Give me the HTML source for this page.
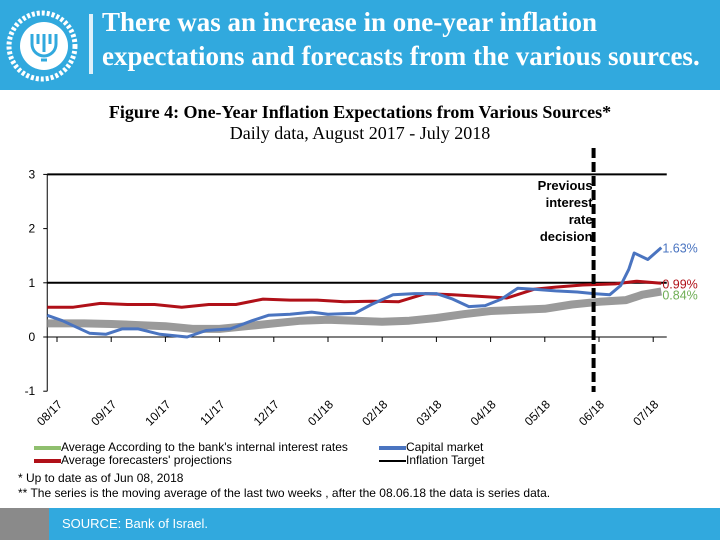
<!DOCTYPE html>
<html><head><meta charset="utf-8"><style>
body{margin:0;width:720px;height:540px;overflow:hidden;background:#fff;font-family:"Liberation Sans",sans-serif;position:relative}
.abs{position:absolute}
</style></head><body>
<div class="abs" style="left:0;top:0;width:720px;height:90px;background:#31a9de"></div>
<svg class="abs" style="left:4px;top:8px" width="76" height="76" viewBox="0 0 76 76">
<circle cx="38" cy="38" r="33" fill="none" stroke="#fff" stroke-width="5" stroke-dasharray="3 2"/>
<circle cx="40" cy="38" r="24" fill="#fff"/>
<path d="M28 26 v10 a12 12 0 0 0 24 0 v-10 M34 26v10 M40 26v18 M46 26v10 M37 52h6" stroke="#31a9de" stroke-width="3" fill="none"/>
</svg>
<div class="abs" style="left:89px;top:14px;width:4px;height:60px;background:#dff1fa"></div>
<div class="abs" style="left:102px;top:5px;color:#fff;font-family:'Liberation Serif',serif;font-weight:bold;font-size:27px;line-height:34px;white-space:nowrap">There was an increase in one-year inflation<br>expectations and forecasts from the various sources.</div>
<div class="abs" style="left:0;width:720px;top:102px;text-align:center;font-family:'Liberation Serif',serif;font-size:18px;line-height:21px;color:#000"><b>Figure 4: One-Year Inflation Expectations from Various Sources*</b><br>Daily data, August 2017 - July 2018</div>
<svg class="abs" style="left:0;top:0" width="720" height="540" id="chart"></svg>
<div class="abs" style="left:34px;top:440px;font-size:12px;line-height:14px;color:#000">
<div class="abs" style="left:0;top:0;white-space:nowrap"><span style="display:inline-block;width:27px;height:4px;background:#8fbf6e;vertical-align:middle"></span>Average According to the bank's internal interest rates</div>
<div class="abs" style="left:0;top:13px;white-space:nowrap"><span style="display:inline-block;width:27px;height:4px;background:#b01018;vertical-align:middle"></span>Average forecasters' projections</div>
<div class="abs" style="left:345px;top:0;white-space:nowrap"><span style="display:inline-block;width:27px;height:4px;background:#4a74c0;vertical-align:middle"></span>Capital market</div>
<div class="abs" style="left:345px;top:13px;white-space:nowrap"><span style="display:inline-block;width:27px;height:2px;background:#000;vertical-align:middle"></span>Inflation Target</div>
</div>
<div class="abs" style="left:18px;top:471px;font-size:12px;line-height:15px;white-space:nowrap">* Up to date as of Jun 08, 2018<br>** The series is the moving average of the last two weeks , after the 08.06.18 the data is series data.</div>
<div class="abs" style="left:0;top:508px;width:49px;height:32px;background:#8a8a8a"></div>
<div class="abs" style="left:49px;top:508px;width:671px;height:32px;background:#31a9de;color:#fff;font-size:13px;line-height:32px;padding-left:13px;box-sizing:border-box">SOURCE: Bank of Israel.</div>
<script>
const months=['08/17','09/17','10/17','11/17','12/17','01/18','02/18','03/18','04/18','05/18','06/18','07/18'];
const yTicks=[-1,0,1,2,3];
const capitalT=[-0.18,0.1,0.6,0.9,1.2,1.5,1.9,2.4,2.75,3.2,3.6,3.9,4.3,4.7,5.0,5.5,5.8,6.2,6.6,7.0,7.3,7.6,7.9,8.2,8.5,8.8,9.2,9.6,9.9,10.2,10.4,10.55,10.65,10.9,11.15];
const capitalV=[0.4,0.3,0.07,0.05,0.15,0.15,0.05,0.0,0.12,0.15,0.3,0.4,0.42,0.46,0.42,0.44,0.6,0.78,0.8,0.8,0.7,0.56,0.58,0.7,0.9,0.88,0.85,0.83,0.8,0.78,0.95,1.25,1.55,1.43,1.65];
const forecastT=[-0.18,0.3,0.8,1.3,1.8,2.3,2.8,3.3,3.8,4.3,4.8,5.3,5.8,6.3,6.8,7.3,7.8,8.3,8.8,9.2,9.7,10.3,10.7,11.15];
const forecastV=[0.55,0.55,0.62,0.6,0.6,0.55,0.6,0.6,0.7,0.68,0.68,0.65,0.66,0.65,0.8,0.78,0.75,0.72,0.88,0.92,0.96,0.98,1.03,0.99];
const bankT=[-0.18,0.5,1.0,1.5,2.0,2.5,3.0,3.5,4.0,4.5,5.0,5.5,6.0,6.5,7.0,7.5,8.0,8.5,9.0,9.5,10.0,10.5,10.8,11.15];
const bankV=[0.25,0.25,0.24,0.22,0.2,0.15,0.15,0.2,0.25,0.3,0.32,0.3,0.28,0.3,0.35,0.42,0.48,0.5,0.52,0.6,0.65,0.68,0.78,0.84];
const decisionT=9.9;
const svg=document.getElementById('chart');const NS='http://www.w3.org/2000/svg';
const X=m=>57+m*54.2, Y=v=>337-v*54.2;
function mk(t,a,p){const e=document.createElementNS(NS,t);for(const k in a)e.setAttribute(k,a[k]);(p||svg).appendChild(e);return e;}
const x0=X(-0.18),x1=X(11.25);
let e=mk('line',{x1:x0,x2:x0,y1:Y(3),y2:Y(-1),stroke:'#000','stroke-width':1});

yTicks.forEach(v=>{let t=mk('line',{x1:x0-4,x2:x0,y1:Y(v),y2:Y(v),stroke:'#000'});

let l=mk('text',{x:x0-12,y:Y(v)+4,'text-anchor':'end','font-size':12,'font-family':'Liberation Sans, sans-serif'});l.textContent=v;
});
e=mk('line',{x1:x0,x2:x1,y1:Y(0),y2:Y(0),stroke:'#000'});

months.forEach((m,i)=>{let t=mk('line',{x1:X(i),x2:X(i),y1:Y(0),y2:Y(0)+5,stroke:'#000'});

let l=mk('text',{x:X(i)+6,y:Y(-1)+14,'text-anchor':'end','font-size':12,'font-family':'Liberation Sans, sans-serif',transform:`rotate(-45 ${X(i)+6} ${Y(-1)+14})`});l.textContent=m;
});
[3,1].forEach(v=>{let t=mk('line',{x1:x0,x2:x1,y1:Y(v),y2:Y(v),stroke:'#000','stroke-width':2});
});
function path(T,V,col,w,name){const d=T.map((t,i)=>(i?'L':'M')+X(t).toFixed(1)+' '+Y(V[i]).toFixed(1)).join(' ');
const p=mk('path',{d,stroke:col,'stroke-width':w,fill:'none','stroke-linejoin':'round'});
}
path(bankT,bankV,'#9a9a9a',8,'bank-series-line');
path(forecastT,forecastV,'#b01018',3,'forecasters-series-line');
path(capitalT,capitalV,'#4a74c0',3,'capital-market-series-line');
function lab(t,v,c,n,dy){const l=mk('text',{x:X(t)+1,y:Y(v)+dy,fill:c,'font-size':12.5,'font-family':'Liberation Sans, sans-serif'});l.textContent=n;
}
lab(capitalT[capitalT.length-1],capitalV[capitalV.length-1],'#4a74c0','1.63%',5);
lab(forecastT[forecastT.length-1],forecastV[forecastV.length-1],'#b01018','0.99%',5);
lab(bankT[bankT.length-1],bankV[bankV.length-1],'#6fae55','0.84%',8);
e=mk('line',{x1:X(decisionT),x2:X(decisionT),y1:148,y2:392,stroke:'#000','stroke-width':4,'stroke-dasharray':'10 4'});

['Previous','interest','rate','decision'].forEach((s,i)=>{let l=mk('text',{x:X(decisionT)-1,y:190+i*17,'text-anchor':'end','font-size':13,'font-weight':'bold','font-family':'Liberation Sans, sans-serif'});l.textContent=s;
});
</script>
</body></html>
